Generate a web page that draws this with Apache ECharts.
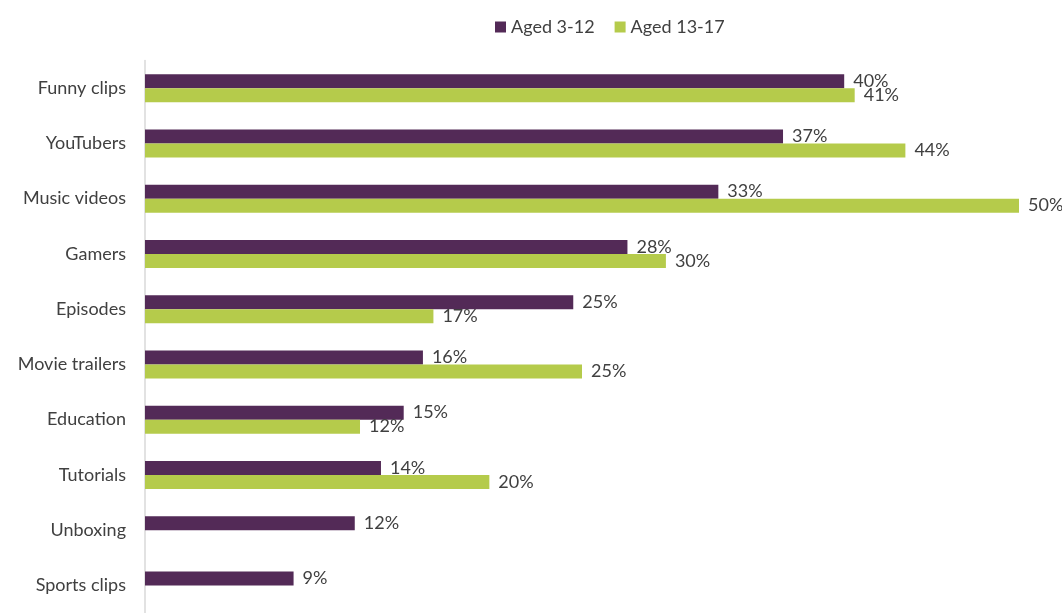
<!DOCTYPE html>
<html>
<head>
<meta charset="utf-8">
<script src="https://cdn.jsdelivr.net/npm/echarts@6/dist/echarts.min.js"></script>
<style>
  html, body { margin: 0; padding: 0; background: #fff; }
  #chart { width: 1062px; height: 613px; }
</style>
</head>
<body>
<div id="chart"></div>
<script>
var categories = ['Funny clips', 'YouTubers', 'Music videos', 'Gamers', 'Episodes',
    'Movie trailers', 'Education', 'Tutorials', 'Unboxing', 'Sports clips'];
// bar lengths (labels show them rounded)
var aged3to12 = [40.0, 36.5, 32.8, 27.6, 24.5, 15.9, 14.8, 13.5, 12.0, 8.5];
var aged13to17 = [40.6, 43.5, 50.0, 29.8, 16.5, 25.0, 12.3, 19.7, null, null];
var seriesNames = ['Aged 3-12', 'Aged 13-17'];

var chart = echarts.init(document.getElementById('chart'));
var font = 'Lato, "Open Sans", sans-serif';

var labelOpt = {
    show: true,
    position: 'right',
    distance: 9,
    color: '#404040',
    fontSize: 18,
    fontFamily: font,
    formatter: function (p) { return p.value == null ? '' : Math.round(p.value) + '%'; }
};

var option = {
    animation: false,
    color: ['#532a57', '#b5cb4b'],
    legend: {
        top: 13,
        left: 490,
        icon: 'rect',
        itemWidth: 11,
        itemHeight: 11,
        itemGap: 20,
        textStyle: { color: '#404040', fontSize: 18, fontFamily: font },
        data: seriesNames
    },
    grid: {
        left: 145,
        top: 60.5,
        width: 874,
        height: 558,
        containLabel: false
    },
    xAxis: {
        type: 'value',
        min: 0,
        max: 50,
        show: false,
        splitLine: { show: false }
    },
    yAxis: {
        type: 'category',
        inverse: true,
        data: categories,
        axisLine: { show: true, lineStyle: { color: '#d9d9d9', width: 1.5 } },
        axisTick: { show: false },
        axisLabel: { color: '#404040', fontSize: 18, fontFamily: font, margin: 19 }
    },
    series: [
        {
            name: seriesNames[0],
            type: 'bar',
            barWidth: 14,
            barGap: '0%',
            data: aged3to12,
            label: labelOpt
        },
        {
            name: seriesNames[1],
            type: 'bar',
            barWidth: 14,
            barGap: '0%',
            data: aged13to17,
            label: labelOpt
        }
    ]
};

chart.setOption(option);
</script>
</body>
</html>
